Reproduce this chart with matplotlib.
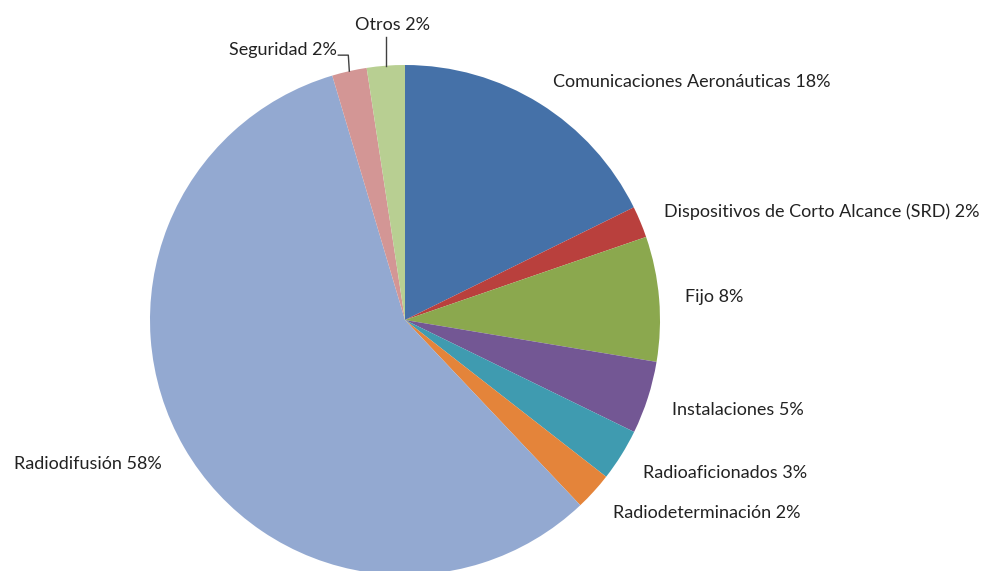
import numpy as np
import matplotlib
matplotlib.use("Agg")
import matplotlib.pyplot as plt

categories = ["Comunicaciones Aeronáuticas", "Dispositivos de Corto Alcance (SRD)", "Fijo",
              "Instalaciones", "Radioaficionados", "Radiodeterminación", "Radiodifusión",
              "Seguridad", "Otros"]
values = [17.7, 2.0, 7.9, 4.6, 3.3, 2.4, 57.4, 2.2, 2.4]
pct_labels = ["18%", "2%", "8%", "5%", "3%", "2%", "58%", "2%", "2%"]
colors = ["#4571A8", "#B9403D", "#8BA84E", "#735794", "#3F9BB0", "#E4843A",
          "#93A9D1", "#D39695", "#B8CF92"]

W, H = 984, 571
fig = plt.figure(figsize=(W / 100, H / 100), dpi=100)
ax = fig.add_axes([0, 0, 1, 1])

cx, cy, R = 405, H - 320, 255
wedges, _ = ax.pie(values, colors=colors, startangle=90, counterclock=False,
                   center=(cx, cy), radius=R, frame=True,
                   wedgeprops=dict(linewidth=0))
ax.set_xlim(0, W)
ax.set_ylim(0, H)
ax.set_aspect("equal")
ax.axis("off")

font = dict(family=["Lato", "DejaVu Sans"], fontsize=13, color="#222222")
for i, w in enumerate(wedges):
    mid = np.deg2rad((w.theta1 + w.theta2) / 2)
    text = f"{categories[i]} {pct_labels[i]}"
    ex, ey = cx + R * np.cos(mid), cy + R * np.sin(mid)
    if categories[i] == "Otros":
        ax.plot([ex, ex], [ey, ey + 29], color="#404040", lw=1)
        ax.text(ex + 7, ey + 41, text, ha="center", va="center", **font)
    elif categories[i] == "Seguridad":
        ax.plot([ex, ex - 1, ex - 11], [ey, ey + 16, ey + 16], color="#404040", lw=1)
        ax.text(ex - 12, ey + 21, text, ha="right", va="center", **font)
    else:
        lx, ly = cx + 1.1 * R * np.cos(mid), cy + 1.1 * R * np.sin(mid)
        ha = "left" if np.cos(mid) > 0 else "right"
        ly -= 4 if np.sin(mid) < -0.3 else 0
        ax.text(lx, ly, text, ha=ha, va="center", **font)

fig.savefig("out.png", dpi=100)
